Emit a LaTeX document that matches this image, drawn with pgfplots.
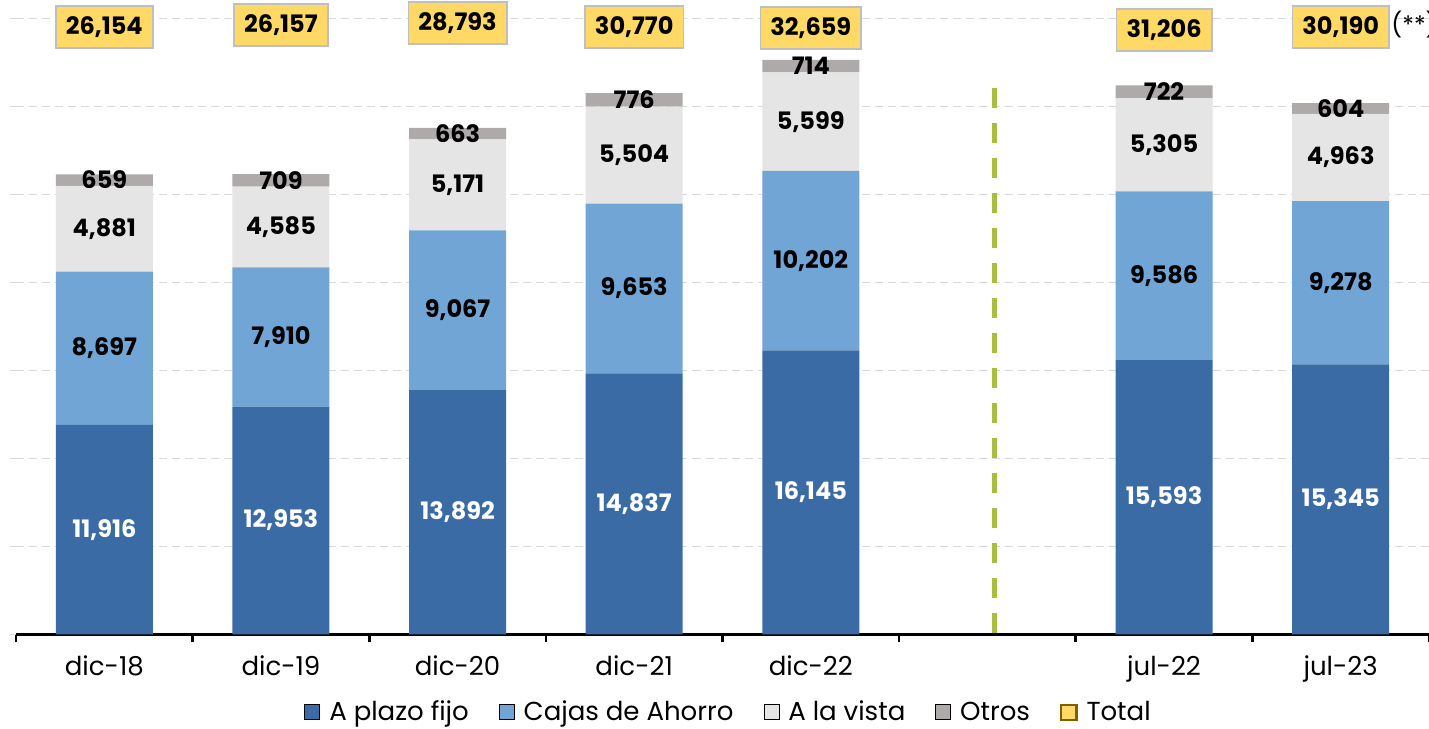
\documentclass[border=0pt]{standalone}
\usepackage{fontspec}
\setmainfont{Poppins}
\usepackage{pgfplots}
\pgfplotsset{compat=1.18}

\definecolor{plazo}{HTML}{3A6BA5}
\definecolor{cajas}{HTML}{70A5D5}
\definecolor{vista}{HTML}{E5E5E5}
\definecolor{otros}{HTML}{AEAAAA}
\definecolor{totfill}{HTML}{FFD966}
\definecolor{totdraw}{HTML}{7F6000}
\definecolor{boxgray}{HTML}{BFBFBF}
\definecolor{gridgray}{HTML}{D9D9D9}
\definecolor{divgreen}{HTML}{A9BD3F}

\pgfplotsset{
  common/.style={
    scale only axis, width=706pt, height=316.5pt,
    xmin=-0.5, xmax=7.5, ymin=0, ymax=36000,
    clip=false,
  },
  lab/.style={
    draw=none, nodes near coords, point meta=explicit symbolic,
    nodes near coords style={anchor=center, font=\fontsize{12pt}{14pt}\selectfont\bfseries, #1},
  },
}

\begin{document}
\begin{tikzpicture}
\path[use as bounding box] (-8pt,-47pt) rectangle (706pt,317pt);

\begin{axis}[
  common,
  ybar stacked, bar width=48.5pt,
  axis lines=left, axis line style={-},
  x axis line style={black, line width=1.5pt},
  y axis line style={draw=none},
  tick align=outside, major tick length=3pt, minor tick length=4pt,
  xtick={0,1,2,3,4,6,7},
  xticklabels={dic-18,dic-19,dic-20,dic-21,dic-22,jul-22,jul-23},
  major x tick style={draw=none},
  minor xtick={-0.5,0.5,1.5,2.5,3.5,4.5,5.5,6.5,7.5},
  minor x tick style={draw=black, line width=1.3pt},
  xticklabel style={font=\fontsize{13pt}{15pt}\selectfont, yshift=-4pt},
  ytick={0,5000,...,35000},
  yticklabel={\phantom{0}},
  major y tick style={draw=gridgray, line width=0.8pt},
  ymajorgrids,
  grid style={gridgray, line width=0.75pt, dash pattern=on 4pt off 2.5pt},
  legend image code/.code={\draw[#1] (0pt,-3.75pt) rectangle (7.5pt,3.75pt);},
  legend style={at={(0.505,-0.123)}, anchor=center, draw=none, fill=none,
    legend columns=-1, font=\fontsize{13pt}{15pt}\selectfont,
    /tikz/every odd column/.append style={column sep=2.5pt},
    /tikz/every even column/.append style={column sep=13pt}},
]
\addplot[fill=plazo, draw=none] coordinates {
  (0,11916) (1,12953) (2,13892) (3,14837) (4,16145) (6,15593) (7,15345)};
\addplot[fill=cajas, draw=none] coordinates {
  (0,8697) (1,7910) (2,9067) (3,9653) (4,10202) (6,9586) (7,9278)};
\addplot[fill=vista, draw=none] coordinates {
  (0,4881) (1,4585) (2,5171) (3,5504) (4,5599) (6,5305) (7,4963)};
\addplot[fill=otros, draw=none] coordinates {
  (0,659) (1,709) (2,663) (3,776) (4,714) (6,722) (7,604)};
\addlegendimage{fill=totfill, draw=totdraw, line width=1.2pt}
\legend{A plazo fijo, Cajas de Ahorro, A la vista, Otros, Total}
\end{axis}

\begin{axis}[common, hide axis]
% divider between annual and monthly data
\addplot[divgreen, line width=2.5pt, dash pattern=on 10pt off 7.5pt] coordinates {(5.04,31060) (5.04,0)};
% segment labels
\addplot[lab={white}] coordinates {
  (0,5958)[11,916] (1,6476)[12,953] (2,6946)[13,892] (3,7418)[14,837]
  (4,8072)[16,145] (6,7796)[15,593] (7,7672)[15,345]};
\addplot[lab={black}] coordinates {
  (0,16264)[8,697] (1,16908)[7,910] (2,18425)[9,067] (3,19663)[9,653]
  (4,21246)[10,202] (6,20386)[9,586] (7,19984)[9,278]};
\addplot[lab={black}] coordinates {
  (0,23053)[4,881] (1,23155)[4,585] (2,25544)[5,171] (3,27242)[5,504]
  (4,29146)[5,599] (6,27831)[5,305] (7,27104)[4,963]};
\addplot[lab={black}] coordinates {
  (0,25823)[659] (1,25802)[709] (2,28461)[663] (3,30382)[776]
  (4,32303)[714] (6,30845)[722] (7,29888)[604]};
% totals
\addplot[lab={black, fill=totfill, draw=boxgray, line width=0.9pt, inner xsep=5pt, minimum height=21pt}] coordinates {
  (0,34520)[26,154] (1,34630)[26,157] (2,34740)[28,793] (3,34520)[30,770]
  (4,34460)[32,659] (6,34340)[31,206] (7,34520)[30,190]};
\addplot[draw=none, nodes near coords, point meta=explicit symbolic,
  nodes near coords style={anchor=west, inner xsep=0pt, font=\fontsize{12pt}{14pt}\selectfont}] coordinates {
  (7.285,34650)[(**)]};
\end{axis}
\end{tikzpicture}
\end{document}
